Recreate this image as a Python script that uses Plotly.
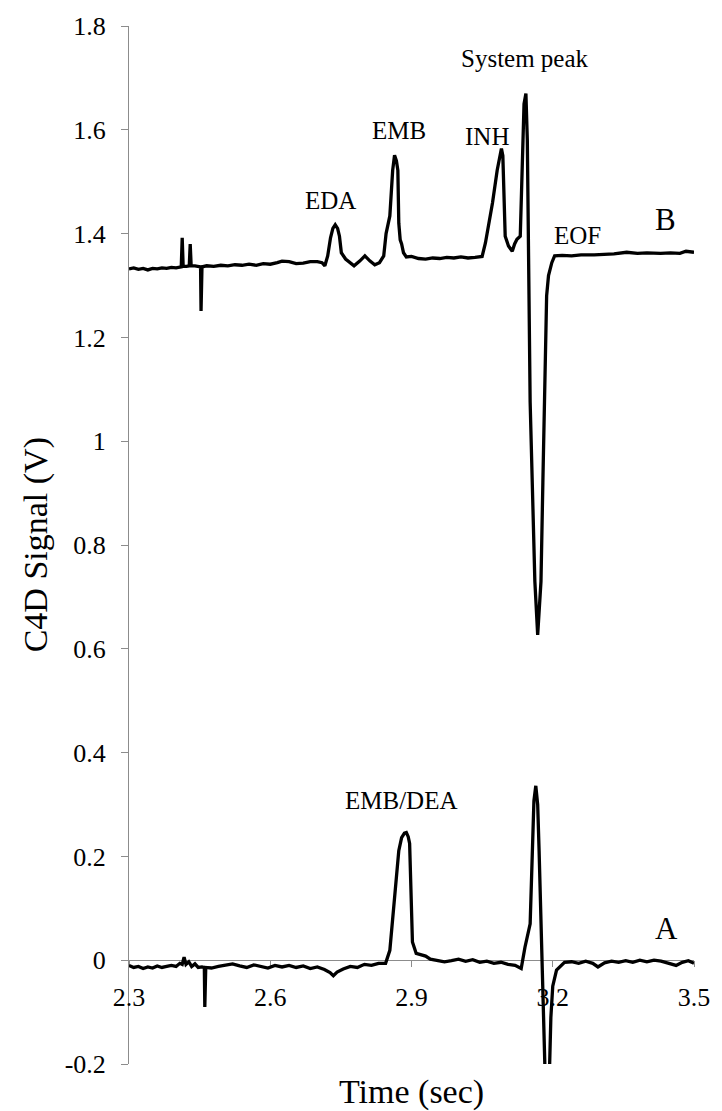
import plotly.graph_objects as go

# Electropherogram B (upper trace): time (s) and C4D signal (V)
time_b = [2.300, 2.310, 2.320, 2.330, 2.340, 2.350, 2.360, 2.370, 2.380, 2.390,
          2.400, 2.408, 2.411, 2.413, 2.415, 2.422, 2.428, 2.430, 2.432, 2.440,
          2.448, 2.452, 2.453, 2.455, 2.465, 2.480, 2.495, 2.510, 2.525, 2.540,
          2.555, 2.570, 2.585, 2.600, 2.615, 2.625, 2.640, 2.655, 2.670, 2.685,
          2.700, 2.710, 2.716, 2.722, 2.728, 2.733, 2.738, 2.743, 2.747, 2.751,
          2.760, 2.770, 2.778, 2.790, 2.801, 2.812, 2.822, 2.832, 2.841, 2.846,
          2.854, 2.860, 2.864, 2.868, 2.871, 2.873, 2.876, 2.879, 2.883, 2.889,
          2.900, 2.915, 2.930, 2.945, 2.960, 2.975, 2.990, 3.005, 3.020, 3.035,
          3.050, 3.057, 3.065, 3.072, 3.082, 3.088, 3.091, 3.094, 3.097, 3.099,
          3.106, 3.114, 3.119, 3.124, 3.131, 3.135, 3.139, 3.143, 3.146, 3.152,
          3.156, 3.162, 3.168, 3.175, 3.179, 3.183, 3.187, 3.191, 3.198, 3.204,
          3.220, 3.240, 3.260, 3.288, 3.310, 3.330, 3.357, 3.380, 3.400, 3.429,
          3.450, 3.470, 3.483, 3.490, 3.500]
signal_b = [1.332, 1.334, 1.331, 1.333, 1.330, 1.333, 1.332, 1.334, 1.333, 1.335,
            1.334, 1.336, 1.336, 1.392, 1.337, 1.337, 1.338, 1.380, 1.338, 1.338,
            1.337, 1.336, 1.251, 1.336, 1.338, 1.337, 1.339, 1.338, 1.340, 1.339,
            1.341, 1.339, 1.342, 1.341, 1.344, 1.347, 1.346, 1.342, 1.343, 1.346,
            1.346, 1.344, 1.338, 1.357, 1.392, 1.410, 1.417, 1.410, 1.395, 1.363,
            1.351, 1.344, 1.338, 1.347, 1.357, 1.347, 1.340, 1.344, 1.357, 1.400,
            1.434, 1.522, 1.551, 1.540, 1.522, 1.420, 1.388, 1.380, 1.363, 1.355,
            1.356, 1.352, 1.351, 1.353, 1.352, 1.354, 1.353, 1.355, 1.353, 1.354,
            1.356, 1.382, 1.420, 1.459, 1.522, 1.555, 1.564, 1.550, 1.480, 1.395,
            1.376, 1.366, 1.380, 1.389, 1.395, 1.522, 1.650, 1.670, 1.580, 1.075,
            0.920, 0.730, 0.627, 0.730, 0.920, 1.070, 1.280, 1.319, 1.344, 1.357,
            1.358, 1.357, 1.359, 1.359, 1.360, 1.361, 1.364, 1.362, 1.363, 1.362,
            1.363, 1.362, 1.366, 1.365, 1.364]

# Electropherogram A (lower trace)
time_a = [2.300, 2.310, 2.320, 2.330, 2.340, 2.350, 2.360, 2.370, 2.380, 2.390,
          2.400, 2.408, 2.413, 2.417, 2.421, 2.427, 2.433, 2.440, 2.447, 2.455,
          2.460, 2.461, 2.463, 2.475, 2.490, 2.505, 2.520, 2.535, 2.550, 2.565,
          2.580, 2.595, 2.610, 2.625, 2.640, 2.655, 2.670, 2.685, 2.700, 2.715,
          2.727, 2.734, 2.742, 2.755, 2.770, 2.785, 2.800, 2.815, 2.830, 2.845,
          2.854, 2.873, 2.879, 2.885, 2.889, 2.893, 2.896, 2.902, 2.910, 2.920,
          2.930, 2.940, 2.955, 2.970, 2.985, 3.000, 3.015, 3.030, 3.045, 3.060,
          3.075, 3.090, 3.105, 3.120, 3.133, 3.141, 3.152, 3.160, 3.164, 3.168,
          3.171, 3.177, 3.182, 3.187, 3.192, 3.196, 3.200, 3.208, 3.225, 3.240,
          3.255, 3.270, 3.285, 3.296, 3.310, 3.325, 3.340, 3.355, 3.370, 3.385,
          3.400, 3.415, 3.430, 3.445, 3.462, 3.475, 3.488, 3.500]
signal_a = [-0.010, -0.014, -0.012, -0.016, -0.013, -0.015, -0.011, -0.014, -0.012, -0.010,
            -0.012, -0.006, -0.008, 0.006, -0.008, -0.003, -0.012, -0.007, -0.014, -0.013,
            -0.014, -0.090, -0.014, -0.015, -0.012, -0.010, -0.007, -0.011, -0.014, -0.009,
            -0.012, -0.015, -0.010, -0.013, -0.010, -0.014, -0.011, -0.016, -0.013, -0.018,
            -0.024, -0.030, -0.023, -0.017, -0.012, -0.014, -0.008, -0.010, -0.006, -0.006,
            0.019, 0.211, 0.236, 0.245, 0.246, 0.238, 0.225, 0.035, 0.013, 0.010,
            0.008, 0.002, 0.000, -0.003, -0.001, 0.002, -0.002, 0.001, -0.004, -0.002,
            -0.006, -0.004, -0.008, -0.010, -0.016, 0.025, 0.070, 0.307, 0.336, 0.300,
            0.211, -0.006, -0.250, -0.330, -0.250, -0.110, -0.050, -0.019, -0.004, -0.003,
            -0.006, -0.002, -0.006, -0.013, -0.005, -0.002, -0.004, -0.001, -0.004, 0.000,
            -0.003, 0.000, -0.002, -0.005, -0.010, -0.004, -0.001, -0.006]

# Axis ticks
x_ticks = [2.3, 2.6, 2.9, 3.2, 3.5]
x_tick_labels = ["2.3", "2.6", "2.9", "3.2", "3.5"]
y_ticks = [-0.2, 0, 0.2, 0.4, 0.6, 0.8, 1.0, 1.2, 1.4, 1.6, 1.8]
y_tick_labels = ["-0.2", "0", "0.2", "0.4", "0.6", "0.8", "1", "1.2", "1.4", "1.6", "1.8"]

# Peak labels: text, time, signal
peak_labels = ["EDA", "EMB", "INH", "System peak", "EOF", "EMB/DEA"]
peak_label_x = [2.728, 2.873, 3.061, 3.141, 3.252, 2.879]
peak_label_y = [1.463, 1.599, 1.588, 1.737, 1.396, 0.307]
trace_names = ["B", "A"]
trace_name_x = [3.439, 3.441]
trace_name_y = [1.427, 0.061]

FONT = "Liberation Serif"
AXIS_GREY = "#8c8c8c"

fig = go.Figure()
fig.add_trace(go.Scatter(x=time_b, y=signal_b, mode="lines",
                         line=dict(color="black", width=3.3), showlegend=False))
fig.add_trace(go.Scatter(x=time_a, y=signal_a, mode="lines",
                         line=dict(color="black", width=3.3), showlegend=False))

for txt, x, y in zip(peak_labels, peak_label_x, peak_label_y):
    fig.add_annotation(x=x, y=y, text=txt, showarrow=False,
                       xanchor="center", yanchor="middle",
                       font=dict(family=FONT, size=25, color="black"))
for txt, x, y in zip(trace_names, trace_name_x, trace_name_y):
    fig.add_annotation(x=x, y=y, text=txt, showarrow=False,
                       xanchor="center", yanchor="middle",
                       font=dict(family=FONT, size=31, color="black"))

# Axis titles
fig.add_annotation(xref="paper", yref="paper", x=0.5, y=-0.027,
                   text="Time (sec)", showarrow=False,
                   xanchor="center", yanchor="middle",
                   font=dict(family=FONT, size=34, color="black"))
fig.add_annotation(xref="paper", yref="paper", x=-0.164, y=0.5,
                   text="C4D Signal (V)", showarrow=False, textangle=-90,
                   xanchor="center", yanchor="middle",
                   font=dict(family=FONT, size=34, color="black"))

fig.update_layout(
    width=722, height=1111,
    margin=dict(l=129, r=21, t=21, b=47, pad=0),
    paper_bgcolor="white", plot_bgcolor="white",
    font=dict(family=FONT, color="black"),
    xaxis=dict(range=[2.3, 3.5], tickvals=x_ticks, ticktext=x_tick_labels,
               anchor="free", position=0.1,
               showline=True, linecolor=AXIS_GREY, linewidth=1,
               ticks="outside", ticklen=6, tickcolor=AXIS_GREY,
               ticklabelstandoff=8,
               showgrid=False, zeroline=False, layer="below traces",
               tickfont=dict(family=FONT, size=26, color="black")),
    yaxis=dict(range=[-0.2, 1.8], tickvals=y_ticks, ticktext=y_tick_labels,
               showline=True, linecolor=AXIS_GREY, linewidth=1,
               ticks="outside", ticklen=7, tickcolor=AXIS_GREY,
               ticklabelstandoff=10,
               showgrid=False, zeroline=False, layer="below traces",
               tickfont=dict(family=FONT, size=26, color="black")),
)

fig.write_html("out.html")
